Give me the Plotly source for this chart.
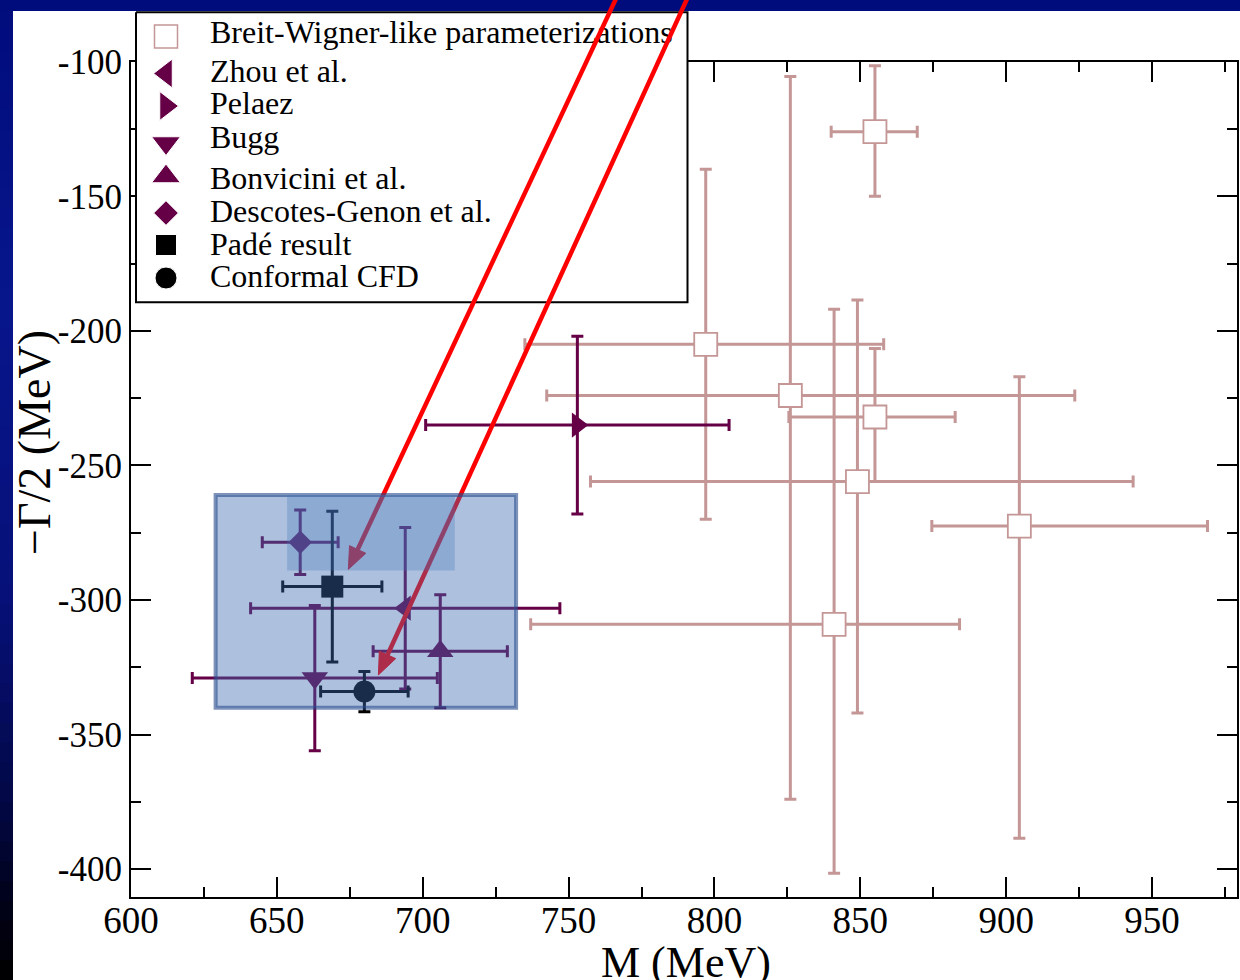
import math
import plotly.graph_objects as go

W, H = 1240, 980

# ---- Breit-Wigner-like parameterizations: M, -Gamma/2 and asymmetric errors (MeV)
bw_mass = [797, 826, 855, 849, 904.5, 855, 841]
bw_mass_plus = [61, 97.5, 27.5, 94.5, 64.5, 14.5, 43]
bw_mass_minus = [62, 83.5, 29.5, 91.5, 30, 15, 104]
bw_hw = [-205, -224, -232, -256, -272.5, -126, -309]
bw_hw_plus = [65, 118.5, 25.5, 67.5, 55.5, 24.5, 117]
bw_hw_minus = [65, 150, 24, 86, 116, 24, 92.5]

# ---- pole determinations
pole_names = ["Zhou et al.", "Pelaez", "Bugg", "Bonvicini et al.",
              "Descotes-Genon et al.", "Padé result", "Conformal CFD"]
pole_mass = [694, 753, 663, 706, 658, 669, 680]
pole_mass_err = [53, 52, 42, 23, 13, 17, 15]
pole_hw = [-303, -235, -329, -319, -278.5, -295, -334]
pole_hw_err = [30, 33, 27, 21, 12, 28, 7.5]

bw_label = "Breit-Wigner-like parameterizations"

# axis ticks
x_ticks = [600, 650, 700, 750, 800, 850, 900, 950]
x_ticktext = ["600", "650", "700", "750", "800", "850", "900", "950"]
y_ticks = [-400, -350, -300, -250, -200, -150, -100]
y_ticktext = ["-400", "-350", "-300", "-250", "-200", "-150", "-100"]

# highlighted regions (M range, -Gamma/2 range)
box_outer = ([629, 732], [-340, -261])
box_inner = ([653.5, 711], [-289, -261])
# arrow tips in data units
arrow_tips = [(674.5, -288.6), (684.8, -327.8)]

# ---- styling
XR = [600, 979]
YR = [-410.2, -100]
XDOM = [131 / W, 1236.7 / W]
YDOM = [(H - 896.7) / H, (H - 61.7) / H]
SERIF = "Liberation Serif"
BW_COL = "#c49696"
PURPLE = "#650046"
pole_symbols = ["triangle-left", "triangle-right", "triangle-down", "triangle-up",
                "diamond", "square", "circle"]
pole_sizes = [22, 22, 23, 23, 18, 22, 22]
pole_colors = [PURPLE, PURPLE, PURPLE, PURPLE, PURPLE, "black", "black"]


def data_to_px(xv, yv):
    fx = XDOM[0] + (xv - XR[0]) / (XR[1] - XR[0]) * (XDOM[1] - XDOM[0])
    fy = YDOM[0] + (yv - YR[0]) / (YR[1] - YR[0]) * (YDOM[1] - YDOM[0])
    return fx * W, (1 - fy) * H


def px_to_paper(px, py):
    return px / W, (H - py) / H


fig = go.Figure()

# Breit-Wigner points
fig.add_trace(go.Scatter(
    x=bw_mass, y=bw_hw, mode="markers", name=bw_label,
    marker=dict(symbol="square", size=23, color="white", opacity=1,
                line=dict(color=BW_COL, width=1.8)),
    error_x=dict(type="data", symmetric=False, array=bw_mass_plus,
                 arrayminus=bw_mass_minus, color=BW_COL, thickness=3, width=6),
    error_y=dict(type="data", symmetric=False, array=bw_hw_plus,
                 arrayminus=bw_hw_minus, color=BW_COL, thickness=3, width=6),
    xaxis="x", yaxis="y", showlegend=False,
))

# pole results
for i, name in enumerate(pole_names):
    c = pole_colors[i]
    fig.add_trace(go.Scatter(
        x=[pole_mass[i]], y=[pole_hw[i]], mode="markers", name=name,
        marker=dict(symbol=pole_symbols[i], size=pole_sizes[i], color=c, opacity=1),
        error_x=dict(type="data", array=[pole_mass_err[i]], color=c,
                     thickness=3, width=6),
        error_y=dict(type="data", array=[pole_hw_err[i]], color=c,
                     thickness=3, width=6),
        xaxis="x", yaxis="y", showlegend=False,
    ))

# ---- hand-built legend on a full-figure overlay (pixel units)
leg_box = dict(x0=136, x1=687.5, y0=12.3, y1=302.3)
leg_sym_x = 166
leg_text_x = 210
leg_sym_y = [36.5, 73.5, 106, 143, 176.5, 213, 245, 278]
leg_text_y = [35, 74, 106, 140, 181, 214, 247, 279]
leg_sym_sizes = [25, 25, 25, 25, 19, 21, 22]

fig.add_trace(go.Scatter(
    x=[leg_box["x0"], leg_box["x1"], leg_box["x1"], leg_box["x0"], leg_box["x0"]],
    y=[leg_box["y0"], leg_box["y0"], leg_box["y1"], leg_box["y1"], leg_box["y0"]],
    mode="lines", fill="toself", fillcolor="white",
    line=dict(color="black", width=2), xaxis="x2", yaxis="y2",
    showlegend=False, hoverinfo="skip",
))
fig.add_trace(go.Scatter(
    x=[leg_sym_x], y=[leg_sym_y[0]], mode="markers",
    marker=dict(symbol="square", size=23, color="white", opacity=1,
                line=dict(color=BW_COL, width=1.5)),
    xaxis="x2", yaxis="y2", showlegend=False, hoverinfo="skip",
))
fig.add_trace(go.Scatter(
    x=[leg_sym_x] * len(pole_names), y=leg_sym_y[1:], mode="markers",
    marker=dict(symbol=pole_symbols, size=leg_sym_sizes, color=pole_colors,
                opacity=1),
    xaxis="x2", yaxis="y2", showlegend=False, hoverinfo="skip",
))
fig.add_trace(go.Scatter(
    x=[leg_text_x] * (len(pole_names) + 1), y=leg_text_y, mode="text",
    text=[bw_label] + pole_names, textposition="middle right",
    textfont=dict(family=SERIF, size=32, color="black"),
    xaxis="x2", yaxis="y2", showlegend=False, hoverinfo="skip",
))

# ---- shapes
shapes = []
# slide background: white panel and darkening left strip
shapes.append(dict(type="rect", xref="paper", yref="paper", x0=13 / W, x1=1,
                   y0=0, y1=(H - 11) / H, fillcolor="white", line_width=0,
                   layer="below"))
stops = [(0, (0, 12, 124)), (300, (8, 22, 140)), (600, (6, 16, 120)),
         (800, (3, 8, 70)), (900, (1, 2, 26)), (980, (0, 0, 0))]


def strip_color(py):
    for (a, ca), (b, cb) in zip(stops[:-1], stops[1:]):
        if a <= py <= b:
            t = (py - a) / (b - a)
            return "rgb(%d,%d,%d)" % tuple(round(ca[k] + t * (cb[k] - ca[k])) for k in range(3))
    return "rgb(0,0,0)"


n_strips = 49
for k in range(n_strips):
    y0p = 11 + k * (H - 11) / n_strips
    y1p = 11 + (k + 1) * (H - 11) / n_strips
    shapes.append(dict(type="rect", xref="paper", yref="paper", x0=0, x1=13 / W,
                       y0=(H - y1p) / H - 0.001, y1=(H - y0p) / H,
                       fillcolor=strip_color((y0p + y1p) / 2), line_width=0,
                       layer="below"))
shapes.append(dict(type="rect", xref="paper", yref="paper", x0=0, x1=1,
                   y0=(H - 11) / H, y1=1, fillcolor="rgb(0,12,124)", line_width=0,
                   layer="below"))

# red arrows reaching in from the top edge
arrow_tails_px = [(621, -12), (692, -12)]
for (tx, ty), (sx, sy) in zip(arrow_tips, arrow_tails_px):
    px, py = data_to_px(tx, ty)
    dx, dy = px - sx, py - sy
    L = math.hypot(dx, dy)
    ux, uy = dx / L, dy / L
    head_len, head_hw = 22, 9
    bx, by = px - ux * head_len, py - uy * head_len
    lx, ly = bx - uy * head_hw, by + ux * head_hw
    rx, ry = bx + uy * head_hw, by - ux * head_hw
    a0 = px_to_paper(sx, sy)
    a1 = px_to_paper(bx + ux * 2, by + uy * 2)
    shapes.append(dict(type="line", xref="paper", yref="paper",
                       x0=a0[0], y0=a0[1], x1=a1[0], y1=a1[1],
                       line=dict(color="#ff0000", width=4.5), layer="above"))
    pts = [px_to_paper(px, py), px_to_paper(lx, ly), px_to_paper(rx, ry)]
    path = "M %f %f L %f %f L %f %f Z" % (pts[0][0], pts[0][1], pts[1][0],
                                         pts[1][1], pts[2][0], pts[2][1])
    shapes.append(dict(type="path", xref="paper", yref="paper", path=path,
                       fillcolor="#ff0000", line=dict(color="#ff0000", width=1),
                       layer="above"))

# translucent highlight boxes
shapes.append(dict(type="rect", xref="x", yref="y",
                   x0=box_outer[0][0], x1=box_outer[0][1],
                   y0=box_outer[1][0], y1=box_outer[1][1],
                   fillcolor="rgba(60,105,175,0.42)",
                   line=dict(color="rgba(40,75,140,0.6)", width=4), layer="above"))
shapes.append(dict(type="rect", xref="x", yref="y",
                   x0=box_inner[0][0], x1=box_inner[0][1],
                   y0=box_inner[1][0], y1=box_inner[1][1],
                   fillcolor="rgba(70,120,190,0.3)", line_width=0, layer="above"))

axis_common = dict(
    showline=True, linecolor="black", linewidth=2, mirror="allticks",
    ticks="inside", ticklen=20, tickwidth=1.6, tickcolor="black",
    showgrid=False, zeroline=False,
)

fig.update_layout(
    width=W, height=H, template="none",
    margin=dict(l=0, r=0, t=0, b=0),
    paper_bgcolor="rgb(0,12,124)", plot_bgcolor="rgba(0,0,0,0)",
    showlegend=False,
    xaxis=dict(domain=XDOM, range=XR, tickmode="array", tickvals=x_ticks,
               ticktext=x_ticktext, ticklabelstandoff=-10,
               tickfont=dict(family=SERIF, size=37, color="black"),
               minor=dict(ticks="inside", ticklen=10, tickwidth=1.6,
                          tickcolor="black", dtick=25, tick0=600),
               anchor="y", **axis_common),
    yaxis=dict(domain=YDOM, range=YR, tickmode="array", tickvals=y_ticks,
               ticktext=y_ticktext,
               tickfont=dict(family=SERIF, size=35, color="black"),
               minor=dict(ticks="inside", ticklen=10, tickwidth=1.6,
                          tickcolor="black", dtick=25, tick0=-400),
               anchor="x", **axis_common),
    xaxis2=dict(domain=[0, 1], range=[0, W], visible=False, anchor="y2",
                fixedrange=True),
    yaxis2=dict(domain=[0, 1], range=[H, 0], visible=False, anchor="x2",
                fixedrange=True),
    shapes=shapes,
    annotations=[
        dict(text="M (MeV)", xref="paper", yref="paper", x=686 / W,
             y=(H - 962) / H, showarrow=False, xanchor="center", yanchor="middle",
             font=dict(family=SERIF, size=44, color="black")),
        dict(text="\u2212\u0393/2 (MeV)", xref="paper", yref="paper", x=34 / W,
             y=(H - 443) / H, showarrow=False, textangle=-90,
             xanchor="center", yanchor="middle",
             font=dict(family=SERIF, size=46, color="black")),
    ],
)

fig.write_html("out.html")
